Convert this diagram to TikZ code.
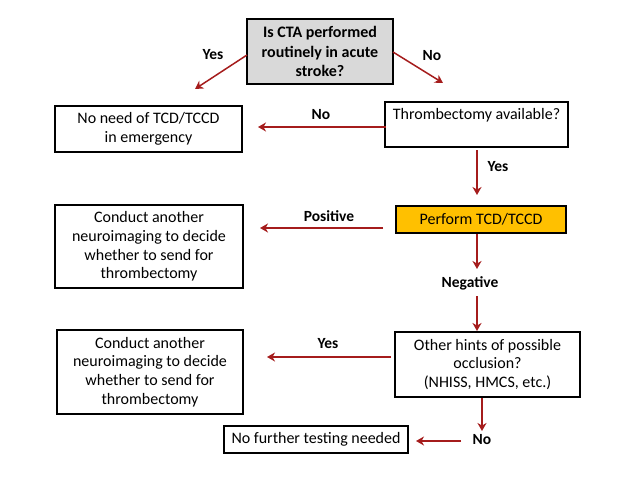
\documentclass[tikz,border=0pt]{standalone}
\usepackage{fontspec}
\setmainfont{Carlito}
\usetikzlibrary{arrows.meta}
\definecolor{arr}{RGB}{165,28,28}
\definecolor{grayfill}{RGB}{217,217,217}
\definecolor{orng}{RGB}{255,192,0}
\begin{document}
\begin{tikzpicture}[x=1pt,y=-1pt,
  box/.style={draw=black,line width=1.4pt,inner sep=0pt,align=center,font=\fontsize{16}{18.8}\selectfont},
  txt/.style={inner sep=0pt,align=center,font=\fontsize{16}{18.8}\selectfont},
  lbl/.style={inner sep=0pt,font=\bfseries\fontsize{15.5}{17}\selectfont},
  conn/.style={draw=arr,line width=1.5pt,-{Stealth[length=8pt,width=9pt,inset=2.5pt]}}]
\useasboundingbox (0,0) rectangle (640,480);
% boxes
\node[box,fill=grayfill,font=\bfseries\fontsize{16}{19.5}\selectfont,minimum width=146,minimum height=65] (q) at (320,51.5) {Is CTA performed\\routinely in acute\\stroke?};
\node[box,minimum width=187,minimum height=46] (noneed) at (148.5,129) {No need of TCD/TCCD\\in emergency};
\node[box,minimum width=183,minimum height=45] (thr) at (476.5,124.5) {};
\node[txt] (thrt) at (476.5,115) {Thrombectomy available?};
\node[box,fill=orng,minimum width=170,minimum height=27] (perf) at (481,219.5) {Perform TCD/TCCD};
\node[box,minimum width=188,minimum height=83] (cond1) at (149,246.5) {Conduct another\\neuroimaging to decide\\whether to send for\\thrombectomy};
\node[box,minimum width=185,minimum height=65] (hints) at (487.5,364.5) {Other hints of possible\\occlusion?\\(NHISS, HMCS, etc.)};
\node[box,minimum width=186,minimum height=84] (cond2) at (150,372) {Conduct another\\neuroimaging to decide\\whether to send for\\thrombectomy};
\node[box,minimum width=184,minimum height=27] (nofur) at (316,439.5) {No further testing needed};
% free ends
\coordinate (a1s) at (247,55);  \coordinate (a1e) at (195,89);
\coordinate (a2s) at (393,52);  \coordinate (a2e) at (443,83);
\coordinate (a3s) at (386,127); \coordinate (a3e) at (258,127);
\coordinate (a4s) at (477,150); \coordinate (a4e) at (477,195);
\coordinate (a5s) at (383,228); \coordinate (a5e) at (260,228);
\coordinate (a6s) at (477,234); \coordinate (a6e) at (477,269);
\coordinate (a7s) at (477,296); \coordinate (a7e) at (477,331);
\coordinate (a8s) at (391,357); \coordinate (a8e) at (267,357);
\coordinate (a9s) at (482,398); \coordinate (a9e) at (482,431);
\coordinate (a10s) at (461,441); \coordinate (a10e) at (416,441);
% labels
\node[lbl] (l1) at (213,55) {Yes};
\node[lbl] (l2) at (432,56) {No};
\node[lbl] (l3) at (321,115) {No};
\node[lbl] (l4) at (498,167) {Yes};
\node[lbl] (l5) at (329,216) {Positive};
\node[lbl] (l6) at (470,283) {Negative};
\node[lbl] (l7) at (328,344) {Yes};
\node[lbl] (l8) at (482,440) {No};
% connectors
\draw[conn] (a1s) -- (a1e);
\draw[conn] (a2s) -- (a2e);
\draw[conn] (a3s) -- (a3e);
\draw[conn] (a4s) -- (a4e);
\draw[conn] (a5s) -- (a5e);
\draw[conn] (a6s) -- (a6e);
\draw[conn] (a7s) -- (a7e);
\draw[conn] (a8s) -- (a8e);
\draw[conn] (a9s) -- (a9e);
\draw[conn] (a10s) -- (a10e);
\end{tikzpicture}
\end{document}
